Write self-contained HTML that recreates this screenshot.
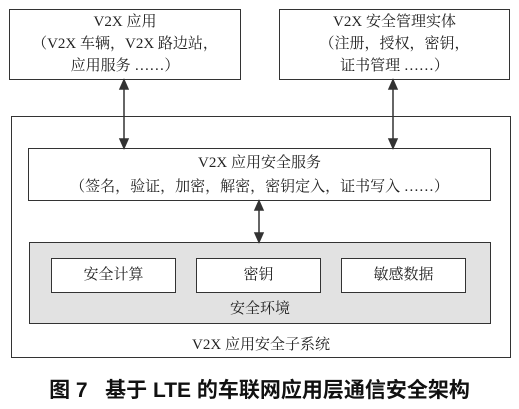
<!DOCTYPE html>
<html><head><meta charset="utf-8"><style>
body{margin:0;width:519px;height:409px;background:#fff;overflow:hidden;position:relative;font-family:"Liberation Serif","Noto Serif CJK SC",serif;color:#222}
.b{position:absolute;border:1.5px solid #333;box-sizing:border-box;background:#fff;text-align:center;font-size:15px;line-height:22px}
.t{position:absolute;text-align:center;font-size:15px}
</style></head><body>
<div class="b" style="left:9px;top:9px;width:232px;height:71px;padding-top:1px">V2X 应用<br>（V2X 车辆，V2X 路边站，<br>应用服务 ……）</div>
<div class="b" style="left:279px;top:9px;width:231px;height:71px;padding-top:1px">V2X 安全管理实体<br>（注册，授权，密钥，<br>证书管理 ……）</div>
<div class="b" style="left:11px;top:116px;width:500px;height:242px;background:none"></div>
<div class="b" style="left:28px;top:148px;width:463px;height:53px;padding-top:2px;line-height:24px">V2X 应用安全服务<br>（签名，验证，加密，解密，密钥定入，证书写入 ……）</div>
<div class="b" style="left:29px;top:242px;width:462px;height:82px;background:#e2e2e2"></div>
<div class="b" style="left:51px;top:258px;width:125px;height:35px;line-height:32px">安全计算</div>
<div class="b" style="left:196px;top:258px;width:125px;height:35px;line-height:32px">密钥</div>
<div class="b" style="left:341px;top:258px;width:125px;height:35px;line-height:32px">敏感数据</div>
<div class="t" style="left:29px;width:462px;top:297px">安全环境</div>
<div class="t" style="left:11px;width:500px;top:333px">V2X 应用安全子系统</div>
<svg style="position:absolute;left:0;top:0" width="519" height="409">
<g stroke="#333" stroke-width="1.5" fill="#333">
<line x1="124" y1="84" x2="124" y2="144"/><polygon points="120,89 128,89 124,80"/><polygon points="120,139 128,139 124,148"/>
<line x1="393" y1="84" x2="393" y2="144"/><polygon points="389,89 397,89 393,80"/><polygon points="389,139 397,139 393,148"/>
<line x1="259" y1="205" x2="259" y2="238"/><polygon points="255,210 263,210 259,201"/><polygon points="255,233 263,233 259,242"/>
</g></svg>
<div style="position:absolute;left:0;width:519px;top:374px;text-align:center;font-family:'Liberation Sans','Noto Sans CJK SC',sans-serif;font-weight:bold;font-size:21px;color:#111;white-space:nowrap">图 7&nbsp;&nbsp;&nbsp;基于 LTE 的车联网应用层通信安全架构</div>
</body></html>
